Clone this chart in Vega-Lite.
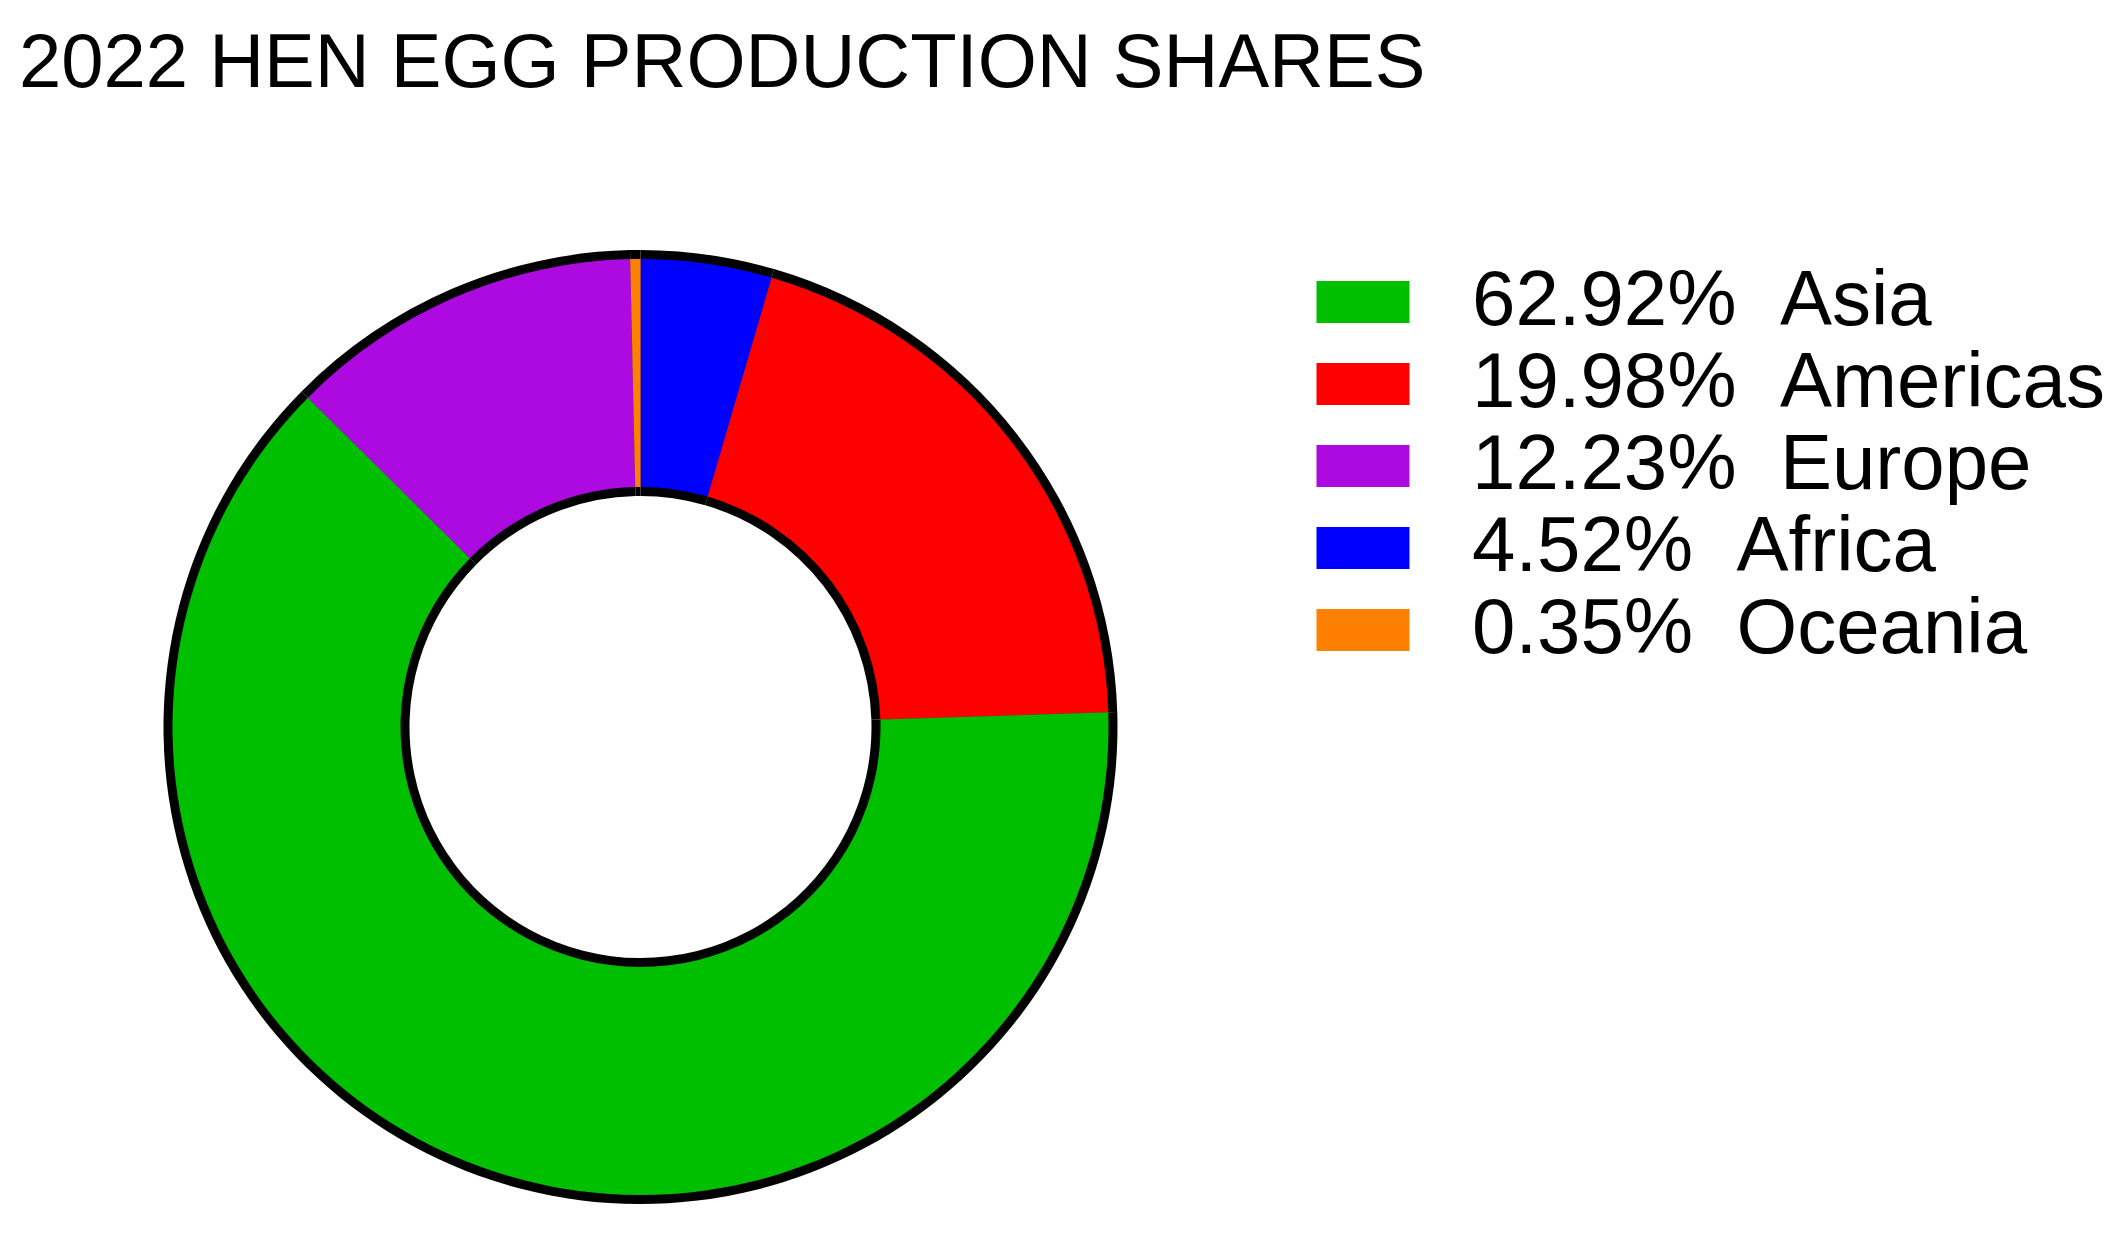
{
  "$schema": "https://vega.github.io/schema/vega-lite/v6.json",
  "autosize": {"type": "none"},
  "width": 1281,
  "height": 1012,
  "padding": {"left": 0, "top": 221, "right": 846, "bottom": 0},
  "background": "white",
  "title": {
    "text": "2022 HEN EGG PRODUCTION SHARES",
    "anchor": "start",
    "frame": "group",
    "font": "Liberation Sans",
    "fontSize": 76,
    "fontWeight": "normal",
    "color": "#000000",
    "baseline": "alphabetic",
    "offset": 58,
    "dx": 19
  },
  "data": {
    "values": [
      {"region": "Africa", "share": 4.52, "label": "4.52%\u00a0\u00a0Africa", "order": 1},
      {"region": "Americas", "share": 19.98, "label": "19.98%\u00a0\u00a0Americas", "order": 2},
      {"region": "Asia", "share": 62.92, "label": "62.92%\u00a0\u00a0Asia", "order": 3},
      {"region": "Europe", "share": 12.23, "label": "12.23%\u00a0\u00a0Europe", "order": 4},
      {"region": "Oceania", "share": 0.35, "label": "0.35%\u00a0\u00a0Oceania", "order": 5}
    ]
  },
  "layer": [
    {
      "mark": {"type": "arc", "radius": 477, "radius2": 231, "color": "#000000", "strokeWidth": 0},
      "encoding": {
        "theta": {"field": "share", "type": "quantitative", "stack": true},
        "order": {"field": "order", "type": "quantitative"}
      }
    },
    {
      "mark": {"type": "arc", "radius": 468, "radius2": 240, "strokeWidth": 0},
      "encoding": {
        "theta": {"field": "share", "type": "quantitative", "stack": true},
        "order": {"field": "order", "type": "quantitative"},
        "color": {
          "field": "label",
          "type": "nominal",
          "scale": {
            "domain": ["62.92%\u00a0\u00a0Asia", "19.98%\u00a0\u00a0Americas", "12.23%\u00a0\u00a0Europe", "4.52%\u00a0\u00a0Africa", "0.35%\u00a0\u00a0Oceania"],
            "range": ["#00BF00", "#FF0000", "#AD0AE1", "#0000FF", "#FF8000"]
          },
          "legend": {
            "title": null,
            "orient": "none",
            "legendX": 1322,
            "legendY": 40,
            "padding": 0,
            "symbolType": "M-1.134,-0.512H1.134V0.512H-1.134Z",
            "symbolSize": 6724,
            "symbolStrokeWidth": 0,
            "labelFont": "Liberation Sans",
            "labelFontSize": 78,
            "labelColor": "#000000",
            "labelOffset": 68,
            "labelLimit": 1000,
            "rowPadding": 2
          }
        }
      }
    }
  ],
  "config": {
    "view": {"stroke": null}
  }
}
